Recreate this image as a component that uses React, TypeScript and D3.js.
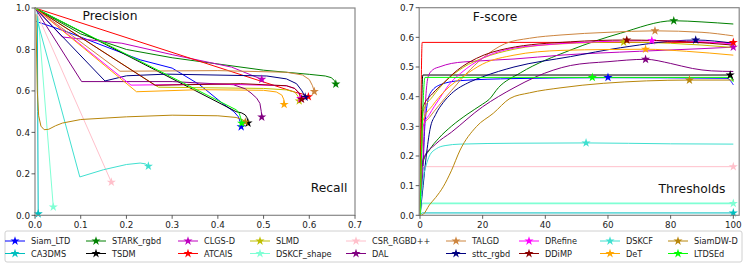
import React from 'react';
import * as d3 from 'd3';

const trackers = [
  'Siam_LTD', 'CA3DMS', 'STARK_rgbd', 'TSDM', 'CLGS-D', 'ATCAIS', 'SLMD', 'DSKCF_shape', 'CSR_RGBD++',
  'DAL', 'TALGD', 'sttc_rgbd', 'DRefine', 'DDiMP', 'DSKCF', 'DeT', 'SiamDW-D', 'LTDSEd',
];

const colors = [
  '#0000ff', '#00bfbf', '#008000', '#000000', '#bf00bf', '#ff0000', '#bfbf00', '#7fffd4', '#ffc0cb',
  '#800080', '#cd853f', '#000080', '#ff00ff', '#8b0000', '#40e0d0', '#ffa500', '#b8860b', '#00ff00',
];

// precision / recall curves, [recall, precision]
const prCurves: number[][][] = [
  [[0.003, 0.935], [0.07, 0.885], [0.23, 0.75], [0.3, 0.71], [0.36, 0.63], [0.41, 0.54], [0.435, 0.5], [0.445, 0.475], [0.449, 0.45], [0.451, 0.427]],
  [[0.005, 1.0], [0.006, 0.5], [0.007, 0.007]],
  [[0, 1], [0.1, 0.875], [0.2, 0.8], [0.3, 0.76], [0.4, 0.73], [0.5, 0.7], [0.6, 0.68], [0.635, 0.672], [0.648, 0.664], [0.655, 0.65], [0.658, 0.633]],
  [[0, 1], [0.44, 0.5], [0.452, 0.494], [0.46, 0.484], [0.464, 0.47], [0.466, 0.445]],
  [[0, 1], [0.06, 0.86], [0.19, 0.83], [0.3, 0.775], [0.43, 0.715], [0.496, 0.656]],
  [[0, 1], [0.57, 0.593], [0.585, 0.585], [0.593, 0.578], [0.598, 0.572]],
  [[0, 1], [0.27, 0.618], [0.5, 0.612], [0.55, 0.605], [0.568, 0.595], [0.575, 0.575], [0.578, 0.552]],
  [[0.007, 0.958], [0.04, 0.04]],
  [[0.005, 0.97], [0.167, 0.16]],
  [[0, 1], [0.102, 0.645], [0.3, 0.645], [0.434, 0.63], [0.46, 0.61], [0.4725, 0.59], [0.485, 0.565], [0.492, 0.54], [0.495, 0.5], [0.496, 0.474]],
  [[0, 1], [0.186, 0.695], [0.4, 0.698], [0.55, 0.69], [0.585, 0.677], [0.6, 0.655], [0.607, 0.625], [0.611, 0.597]],
  [[0, 1], [0.153, 0.648], [0.2, 0.673], [0.288, 0.681], [0.507, 0.672], [0.55, 0.658], [0.572, 0.635], [0.584, 0.6], [0.591, 0.57]],
  [[0, 1], [0.21, 0.628], [0.4, 0.633], [0.55, 0.625], [0.568, 0.612], [0.577, 0.59], [0.581, 0.563]],
  [[0, 1], [0.263, 0.627], [0.45, 0.635], [0.55, 0.625], [0.568, 0.612], [0.578, 0.59], [0.583, 0.56]],
  [[0.005, 0.94], [0.098, 0.185], [0.15, 0.22], [0.2, 0.245], [0.23, 0.252], [0.242, 0.248], [0.248, 0.237]],
  [[0, 1], [0.222, 0.596], [0.36, 0.606], [0.5, 0.603], [0.528, 0.595], [0.54, 0.58], [0.544, 0.56], [0.545, 0.535]],
  [[0.002, 0.97], [0.005, 0.6], [0.008, 0.48], [0.013, 0.43], [0.02, 0.413], [0.03, 0.415], [0.045, 0.432], [0.06, 0.445], [0.1, 0.462], [0.2, 0.475], [0.3, 0.483], [0.4, 0.48], [0.44, 0.472], [0.455, 0.46], [0.46, 0.45]],
  [[0, 1], [0.441, 0.508], [0.447, 0.49], [0.45, 0.47], [0.452, 0.444]],
];

// F-score vs threshold, [threshold, fscore]
const fCurves: number[][][] = [
  [[0, 0], [1, 0.17], [1.6, 0.31], [3.2, 0.41], [6.4, 0.44], [12.8, 0.454], [30, 0.461], [60, 0.464], [98, 0.462], [100, 0.44]],
  [[0, 0], [0.8, 0.008], [100, 0.008]],
  [[0, 0], [1, 0.18], [3, 0.22], [6, 0.26], [10, 0.3], [15, 0.34], [20, 0.375], [22, 0.39], [25, 0.43], [32, 0.48], [48, 0.557], [64, 0.614], [81, 0.656], [90, 0.652], [100, 0.645]],
  [[0, 0], [0.9, 0.473], [99, 0.473], [100, 0.455]],
  [[0, 0], [1, 0.2], [1.5, 0.33], [2, 0.42], [2.6, 0.467], [4, 0.49], [6.4, 0.501], [10, 0.512], [18, 0.52], [30, 0.527], [45, 0.54], [70, 0.553], [90, 0.562], [100, 0.567]],
  [[0, 0], [0.7, 0.583], [100, 0.583]],
  [[0, 0], [1, 0.35], [4, 0.4], [8, 0.45], [14, 0.5], [20, 0.53], [30, 0.56], [45, 0.578], [65, 0.584], [80, 0.58], [100, 0.566]],
  [[0, 0], [0.8, 0.04], [100, 0.04]],
  [[0, 0], [0.8, 0.164], [100, 0.164]],
  [[0, 0], [1, 0.19], [5, 0.24], [10, 0.28], [20, 0.366], [25, 0.4], [30, 0.43], [37, 0.467], [48, 0.505], [60, 0.518], [72, 0.526], [80, 0.512], [87, 0.495], [93, 0.487], [100, 0.485]],
  [[0, 0], [1, 0.3], [3, 0.33], [6, 0.37], [10, 0.42], [15, 0.48], [20, 0.53], [27, 0.578], [35, 0.597], [45, 0.608], [60, 0.617], [75, 0.622], [90, 0.617], [100, 0.605]],
  [[0, 0], [1, 0.1], [2, 0.2], [3.2, 0.29], [5, 0.34], [7.4, 0.38], [10, 0.41], [16, 0.45], [20, 0.467], [30, 0.5], [48, 0.535], [64, 0.565], [88, 0.591], [100, 0.58]],
  [[0, 0], [1, 0.3], [3, 0.34], [6, 0.39], [10, 0.45], [13, 0.479], [20, 0.53], [27, 0.557], [40, 0.575], [50, 0.582], [74, 0.589], [90, 0.585], [100, 0.578]],
  [[0, 0], [1, 0.366], [4, 0.41], [7.4, 0.445], [12, 0.49], [18, 0.529], [28, 0.563], [48, 0.585], [66, 0.591], [85, 0.585], [100, 0.574]],
  [[0, 0], [1, 0.12], [2, 0.17], [3, 0.2], [5.3, 0.225], [8, 0.235], [12.8, 0.24], [30, 0.243], [53, 0.244], [80, 0.241], [100, 0.24]],
  [[0, 0], [1, 0.32], [4, 0.37], [8, 0.42], [14, 0.47], [20, 0.51], [30, 0.54], [45, 0.556], [60, 0.559], [72, 0.56], [85, 0.553], [100, 0.54]],
  [[0, 0], [1, 0.003], [3, 0.035], [5, 0.06], [7.4, 0.096], [10, 0.15], [12.8, 0.22], [18, 0.299], [23.4, 0.344], [28.7, 0.394], [35, 0.413], [45, 0.43], [58.5, 0.445], [86, 0.456], [100, 0.456]],
  [[0, 0], [1.6, 0.465], [99, 0.465], [100, 0.45]],
];

// best F-score point on each curve, [threshold, fscore]
const fBest = [
  [60, 0.465], [100, 0.008], [81, 0.656], [99, 0.473], [100, 0.567], [100, 0.583], [65, 0.584], [100, 0.04], [100, 0.164],
  [72, 0.526], [75, 0.622], [88, 0.591], [74, 0.589], [66, 0.591], [53, 0.244], [72, 0.56], [86, 0.456], [55, 0.465],
];

const prXTicks = [0, 0.1, 0.2, 0.3, 0.4, 0.5, 0.6, 0.7];
const prYTicks = [0, 0.2, 0.4, 0.6, 0.8, 1.0];
const fXTicks = [0, 20, 40, 60, 80, 100];
const fYTicks = [0, 0.1, 0.2, 0.3, 0.4, 0.5, 0.6, 0.7];

// legend columns (star x), 2 rows, column-major
const legendCols = [15, 96, 188, 260, 356, 456, 529, 610, 678];

const font = 'DejaVu Sans, sans-serif';
const star = d3.symbol().type(d3.symbolStar).size(26)();

const App = () => {
  const top = 8;
  const bottom = 215.3;

  const prX = d3.scaleLinear().domain([0, 0.7]).range([35, 355]);
  const prY = d3.scaleLinear().domain([0, 1]).range([bottom, top]);
  const fX = d3.scaleLinear().domain([0, 100]).range([420, 733.3]);
  const fY = d3.scaleLinear().domain([0, 0.7]).range([bottom, 7.7]);

  const prLine = d3.line<number[]>().x((d) => prX(d[0])).y((d) => prY(d[1]));
  const fLine = d3.line<number[]>().x((d) => fX(d[0])).y((d) => fY(d[1])).curve(d3.curveMonotoneX);

  const frame = '#888';

  return (
    <svg width={747} height={265} style={{ display: 'block', position: 'absolute', left: 0, top: 0 }} fontFamily={font}>
      <rect width={747} height={265} fill="white" />

      {/* precision-recall panel */}
      {prCurves.map((c, i) => (
        <path key={'pr' + i} d={prLine(c) || ''} fill="none" stroke={colors[i]} strokeWidth={1} strokeLinejoin="round" />
      ))}
      {prCurves.map((c, i) => {
        const p = c[c.length - 1];
        return <path key={'prs' + i} d={star || ''} transform={`translate(${prX(p[0])},${prY(p[1])})`} fill={colors[i]} />;
      })}
      <rect x={35} y={top} width={320} height={bottom - top} fill="none" stroke={frame} strokeWidth={1.2} />
      {prYTicks.map((t) => (
        <g key={'py' + t}>
          <line x1={31.5} x2={35} y1={prY(t)} y2={prY(t)} stroke="#333" strokeWidth={0.8} />
          <text x={30} y={prY(t) + 3.2} fontSize={8.8} textAnchor="end" fill="#222">{t.toFixed(1)}</text>
        </g>
      ))}
      {prXTicks.map((t) => (
        <g key={'px' + t}>
          <line x1={prX(t)} x2={prX(t)} y1={bottom} y2={bottom + 3.5} stroke="#333" strokeWidth={0.8} />
          <text x={prX(t)} y={bottom + 12.5} fontSize={8.8} textAnchor="middle" fill="#222">{t.toFixed(1)}</text>
        </g>
      ))}
      <text x={110} y={20} fontSize={12.3} textAnchor="middle" fill="#111">Precision</text>
      <text x={329} y={192} fontSize={12.3} textAnchor="middle" fill="#111">Recall</text>

      {/* F-score panel */}
      {fCurves.map((c, i) => (
        <path key={'f' + i} d={fLine(c) || ''} fill="none" stroke={colors[i]} strokeWidth={i === 7 ? 1.8 : 1} />
      ))}
      {fBest.map((p, i) => (
        <path key={'fs' + i} d={star || ''} transform={`translate(${fX(p[0])},${fY(p[1])})`} fill={colors[i]} />
      ))}
      <rect x={419.2} y={7.7} width={320} height={bottom - 7.7} fill="none" stroke={frame} strokeWidth={1.2} />
      {fYTicks.map((t) => (
        <g key={'fy' + t}>
          <line x1={415.7} x2={419.2} y1={fY(t)} y2={fY(t)} stroke="#333" strokeWidth={0.8} />
          <text x={414} y={fY(t) + 3.2} fontSize={8.8} textAnchor="end" fill="#222">{t.toFixed(1)}</text>
        </g>
      ))}
      {fXTicks.map((t) => (
        <g key={'fx' + t}>
          <line x1={fX(t)} x2={fX(t)} y1={bottom} y2={bottom + 3.5} stroke="#333" strokeWidth={0.8} />
          <text x={fX(t)} y={bottom + 12.5} fontSize={8.8} textAnchor="middle" fill="#222">{t}</text>
        </g>
      ))}
      <text x={495} y={21} fontSize={12.3} textAnchor="middle" fill="#111">F-score</text>
      <text x={692} y={193} fontSize={12.3} textAnchor="middle" fill="#111">Thresholds</text>

      {/* legend */}
      <rect x={5} y={231} width={737} height={31} rx={2} fill="white" stroke="#d0d0d0" strokeWidth={1} />
      {trackers.map((name, i) => {
        const cx = legendCols[Math.floor(i / 2)];
        const cy = i % 2 === 0 ? 241 : 253.5;
        return (
          <g key={'lg' + i}>
            <line x1={cx - 10} x2={cx + 10} y1={cy} y2={cy} stroke={colors[i]} strokeWidth={1} />
            <path d={star || ''} transform={`translate(${cx},${cy})`} fill={colors[i]} />
            <text x={cx + 16} y={cy + 3} fontSize={8.2} fill="#222">{name}</text>
          </g>
        );
      })}
    </svg>
  );
};

export default App;
